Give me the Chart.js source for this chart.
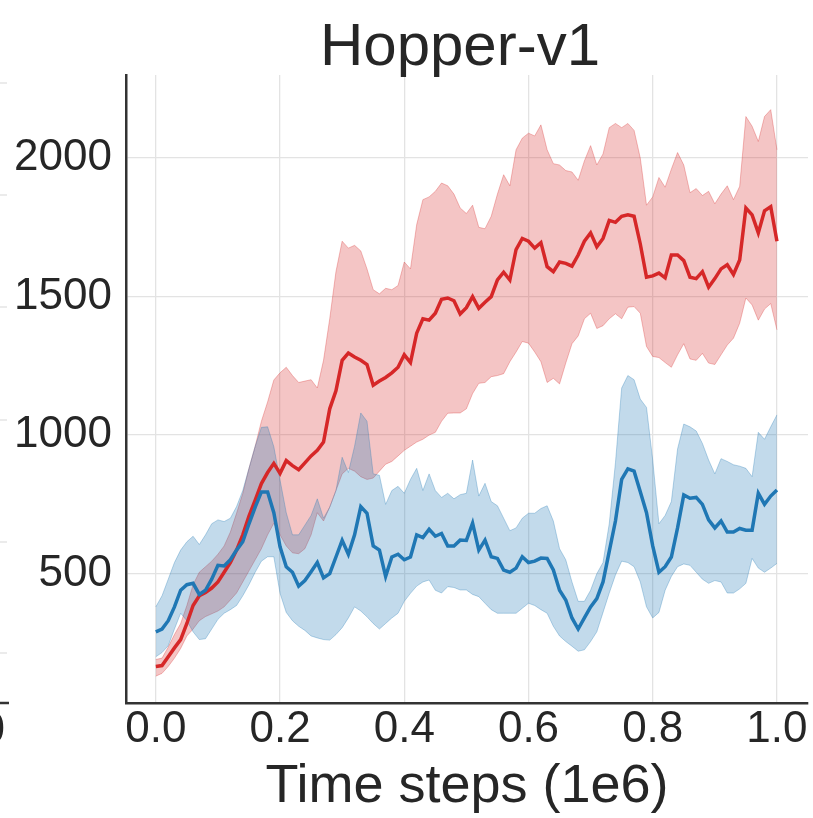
<!DOCTYPE html>
<html>
<head>
<meta charset="utf-8">
<title>Hopper-v1</title>
<script src="https://cdn.jsdelivr.net/npm/chart.js@4/dist/chart.umd.min.js"></script>
<style>
  html, body { margin: 0; padding: 0; background: #ffffff; }
  canvas { display: block; }
</style>
</head>
<body>
<canvas id="chart" width="813" height="818"></canvas>
<script>
// Episode return over training (time steps in millions), two methods with mean and spread.
const chartTitle = 'Hopper-v1';
const xTitle = 'Time steps (1e6)';
const xTicks = [0.0, 0.2, 0.4, 0.6, 0.8, 1.0];
const yTicks = [500, 1000, 1500, 2000];

// Red method: mean return and the upper / lower edges of its band
const redMean = [165, 168, 200, 232, 262, 320, 385, 420, 432, 448,
  470, 505, 540, 585, 640, 708, 765, 825, 865, 898,
  862, 908, 890, 875, 900, 925, 945, 975, 1095, 1160,
  1270, 1296, 1282, 1270, 1255, 1180, 1195, 1208, 1225, 1245,
  1290, 1262, 1368, 1420, 1415, 1440, 1490, 1495, 1485, 1437,
  1460, 1500, 1458, 1480, 1500, 1560, 1588, 1560, 1670, 1710,
  1700, 1675, 1695, 1608, 1590, 1625, 1620, 1610, 1650, 1700,
  1730, 1680, 1710, 1775, 1768, 1790, 1795, 1790, 1690, 1570,
  1575, 1585, 1568, 1650, 1650, 1630, 1570, 1565, 1590, 1534,
  1565, 1600, 1615, 1580, 1632, 1820, 1795, 1730, 1810, 1825, 1700];
const redUpper = [190, 195, 235, 280, 320, 385, 460, 505, 525, 545,
  570, 600, 650, 718, 790, 880, 960, 1050, 1120, 1199,
  1225, 1245, 1215, 1190, 1195, 1200, 1170, 1270, 1420, 1590,
  1700, 1675, 1685, 1665, 1600, 1525, 1510, 1530, 1525, 1540,
  1625, 1600, 1760, 1850, 1860, 1880, 1910, 1900, 1870, 1820,
  1800, 1830, 1750, 1745, 1790, 1870, 1940, 1900, 2030, 2072,
  2090, 2080, 2120, 2030, 1980, 1975, 1955, 1950, 1920, 1990,
  2045, 1975, 2015, 2110, 2125, 2110, 2125, 2100, 2000, 1830,
  1860, 1930, 1895, 1960, 2020, 1975, 1875, 1890, 1865, 1880,
  1835, 1870, 1900, 1850, 1898, 2150, 2115, 2060, 2150, 2175, 2030];
const redLower = [130, 140, 165, 195, 230, 275, 300, 330, 345, 355,
  365, 380, 405, 430, 470, 510, 550, 590, 640, 682,
  640, 600, 575, 572, 590, 640, 720, 690, 740, 800,
  860, 880, 870, 850, 840, 845, 870, 895, 905, 925,
  945, 960, 975, 985, 1000, 1010, 1050, 1079, 1080, 1080,
  1095, 1150, 1187, 1190, 1211, 1215, 1222, 1265, 1300, 1338,
  1332, 1300, 1265, 1190, 1205, 1185, 1260, 1330, 1358, 1420,
  1440, 1385, 1395, 1420, 1438, 1420, 1462, 1464, 1440, 1320,
  1284, 1280, 1262, 1245, 1290, 1330, 1275, 1270, 1295, 1260,
  1255, 1290, 1325, 1350, 1404, 1495, 1470, 1415, 1455, 1475, 1380];

// Blue method: mean return and the upper / lower edges of its band
const blueMean = [290, 300, 330, 380, 440, 460, 465, 425, 440, 480,
  530, 528, 550, 585, 615, 680, 740, 795, 795, 720,
  597, 525, 505, 455, 475, 507, 540, 485, 500, 560,
  620, 570, 640, 742, 718, 600, 585, 490, 560, 570,
  550, 560, 640, 630, 660, 635, 645, 600, 600, 621,
  620, 682, 585, 621, 561, 555, 513, 505, 520, 561,
  540, 545, 556, 555, 513, 440, 405, 340, 300, 340,
  380, 410, 470, 580, 690, 840, 878, 870, 796, 720,
  600, 505, 525, 560, 665, 784, 772, 775, 750, 694,
  665, 690, 650, 650, 663, 657, 657, 790, 750, 780, 802];
const blueUpper = [380, 420, 480, 540, 585, 615, 635, 605, 640, 680,
  694, 688, 700, 742, 800, 880, 960, 1028, 1030, 958,
  838, 720, 640, 640, 675, 710, 770, 700, 740, 800,
  920, 865, 960, 1080, 1050, 860, 855, 750, 800, 815,
  790, 840, 880, 800, 860, 800, 775, 790, 770, 785,
  790, 910, 780, 826, 760, 745, 700, 655, 665, 700,
  718, 718, 735, 745, 690, 590, 550, 470, 400, 400,
  440, 500, 540, 680, 900, 1170, 1215, 1200, 1130, 1100,
  910, 680, 710, 760, 950, 1040, 1030, 1015, 970, 910,
  860, 915, 905, 893, 888, 880, 850, 1010, 985, 1030, 1073];
const blueLower = [200, 215, 240, 300, 357, 330, 290, 262, 265, 300,
  335, 357, 370, 385, 420, 460, 505, 545, 561, 561,
  429, 360, 330, 310, 295, 275, 268, 262, 260, 280,
  305, 340, 380, 365, 344, 320, 300, 320, 340, 357,
  400, 429, 455, 470, 477, 440, 430, 453, 450, 441,
  441, 425, 417, 393, 370, 357, 357, 357, 357, 375,
  393, 385, 370, 357, 310, 275, 255, 238, 220, 225,
  255, 290, 360, 430, 495, 545, 540, 525, 470, 380,
  340, 360, 440, 490, 525, 535, 530, 505, 480, 465,
  475, 470, 430, 430, 445, 465, 555, 520, 505, 520, 537];

// Evaluation points every 0.01 million steps
const steps = redMean.map((_, i) => i / 100);
const pts = vals => vals.map((v, i) => ({ x: steps[i], y: v }));

const RED = '#d62728';
const BLUE = '#1f77b4';
const FONT = "'Liberation Sans', Arial, Helvetica, sans-serif";
const TEXT = '#262626';

// Panel title, plus the edge of the neighbouring panel that shows at the left border
const framePlugin = {
  id: 'panelFrame',
  afterDraw(chart) {
    const ctx = chart.ctx;
    ctx.save();
    ctx.font = '60px ' + FONT;
    ctx.fillStyle = TEXT;
    ctx.textAlign = 'center';
    ctx.textBaseline = 'alphabetic';
    ctx.fillText(chartTitle, 460, 65);

    ctx.strokeStyle = '#e0e0e0';
    ctx.lineWidth = 1.3;
    [83, 195, 307, 420, 542, 653].forEach(y => {
      ctx.beginPath(); ctx.moveTo(0, y); ctx.lineTo(7, y); ctx.stroke();
    });
    ctx.strokeStyle = '#333333';
    ctx.lineWidth = 2.5;
    ctx.beginPath(); ctx.moveTo(0, 703); ctx.lineTo(9, 703); ctx.stroke();
    ctx.font = '44px ' + FONT;
    ctx.textAlign = 'right';
    ctx.textBaseline = 'top';
    ctx.fillText('0', 5, 709);
    ctx.restore();
  }
};

const line = (vals, color) => ({
  data: pts(vals), borderColor: color, borderWidth: 3.5,
  pointRadius: 0, fill: false, tension: 0
});
const edge = (vals, color, fill) => ({
  data: pts(vals), borderColor: color + '4d', borderWidth: 1,
  backgroundColor: color + '45', pointRadius: 0, fill: fill, tension: 0
});

new Chart(document.getElementById('chart'), {
  type: 'line',
  data: {
    datasets: [
      line(blueMean, BLUE),
      line(redMean, RED),
      edge(blueUpper, BLUE, 3),
      edge(blueLower, BLUE, false),
      edge(redUpper, RED, 5),
      edge(redLower, RED, false)
    ]
  },
  options: {
    responsive: false,
    animation: false,
    devicePixelRatio: 1,
    layout: { padding: { top: 75, right: 5, left: 0, bottom: 0 } },
    plugins: { legend: { display: false }, tooltip: { enabled: false }, title: { display: false } },
    scales: {
      x: {
        type: 'linear', min: -0.048, max: 1.05,
        afterBuildTicks: s => { s.ticks = xTicks.map(v => ({ value: v })); },
        afterFit: s => { s.height = 115; },
        grid: { color: '#e3e3e3', lineWidth: 1.3, drawTicks: false },
        border: { display: true, color: '#333333', width: 2.5 },
        ticks: { font: { family: FONT, size: 44 }, color: TEXT, padding: 0,
                 maxRotation: 0, callback: v => Number(v).toFixed(1) },
        title: { display: true, text: xTitle, color: TEXT,
                 font: { family: FONT, size: 54, lineHeight: 1 }, padding: { top: 0, bottom: 4 } }
      },
      y: {
        type: 'linear', min: 33, max: 2300,
        afterBuildTicks: s => { s.ticks = yTicks.map(v => ({ value: v })); },
        afterFit: s => { s.width = 126; },
        grid: { color: '#e3e3e3', lineWidth: 1.3, drawTicks: false },
        border: { display: true, color: '#333333', width: 2.5 },
        ticks: { font: { family: FONT, size: 44 }, color: TEXT, padding: 14,
                 callback: v => String(v) }
      }
    }
  },
  plugins: [framePlugin]
});
</script>
</body>
</html>
